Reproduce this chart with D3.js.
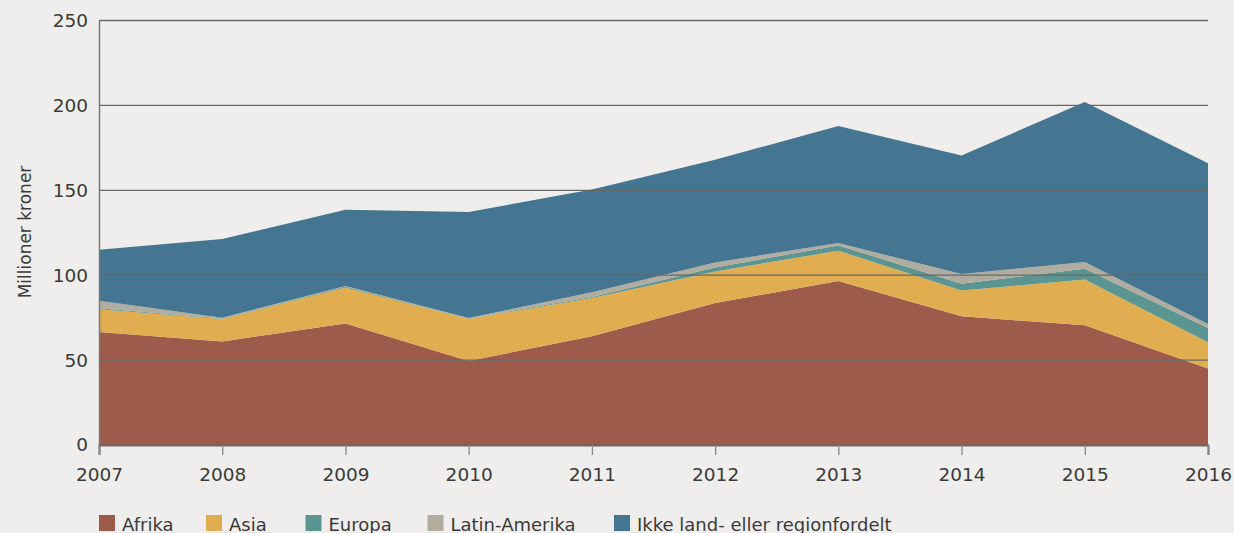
<!DOCTYPE html>
<html>
<head>
<meta charset="utf-8">
<script src="https://cdn.jsdelivr.net/npm/d3@7"></script>
<style>
body { margin:0; background:#efeeec; }
text { font-family:"DejaVu Sans", sans-serif; fill:#3a3a3a; }
</style>
</head>
<body>
<div id="chart"></div>
<script>
// data (millioner kroner)
var years = [2007, 2008, 2009, 2010, 2011, 2012, 2013, 2014, 2015, 2016];
var afrika = [66.5, 61, 71.6, 49.5, 64, 83.6, 96.6, 75.8, 70.5, 45];
var asia = [13.5, 13.2, 21.2, 24.8, 22.6, 18.6, 17.8, 15.2, 26.9, 15.5];
var europa = [0.5, 0.3, 0.5, 0.2, 0.6, 2.4, 3.1, 4, 6.4, 8.4];
var latin = [4.5, 0.5, 0.3, 0.3, 2.7, 2.9, 1.4, 5.7, 4, 2.4];
var ikke = [30, 46.3, 44.9, 62.4, 60.6, 60.5, 69, 69.8, 94.2, 94.7];
var yTicks = [0, 50, 100, 150, 200, 250];

var names = ["Afrika", "Asia", "Europa", "Latin-Amerika", "Ikke land- eller regionfordelt"];
var colors = ["#9c5b4b", "#e0ae50", "#5a9591", "#b0aca0", "#447591"];
var series = [afrika, asia, europa, latin, ikke];

var width = 1234, height = 533;
var margin = {top: 20.5, right: 26, bottom: 88, left: 99};
var w = width - margin.left - margin.right;
var h = height - margin.top - margin.bottom;

var svg = d3.select("#chart").append("svg")
  .attr("width", width)
  .attr("height", height);

var g = svg.append("g")
  .attr("transform", "translate(" + margin.left + "," + margin.top + ")");

var x = d3.scaleLinear().domain([2007, 2016]).range([0, w]);
var y = d3.scaleLinear().domain([0, 250]).range([h, 0]);

// table for stack
var rows = years.map(function(yr, i) {
  var r = {year: yr};
  names.forEach(function(n, k) { r[n] = series[k][i]; });
  return r;
});

var stack = d3.stack().keys(names);
var layers = stack(rows);

var area = d3.area()
  .x(function(d) { return x(d.data.year); })
  .y0(function(d) { return y(d[0]); })
  .y1(function(d) { return y(d[1]); });

g.selectAll("path.layer")
  .data(layers)
  .enter()
  .append("path")
  .attr("class", "layer")
  .attr("d", area)
  .attr("fill", function(d, i) { return colors[i]; });

// gridlines on top
g.selectAll("line.grid")
  .data(yTicks.slice(1))
  .enter()
  .append("line")
  .attr("class", "grid")
  .attr("x1", 0).attr("x2", w)
  .attr("y1", function(d) { return y(d); })
  .attr("y2", function(d) { return y(d); })
  .attr("stroke", "#686868")
  .attr("stroke-width", 1.3);

// y axis
var yAxis = g.append("g")
  .call(d3.axisLeft(y).tickValues(yTicks).tickSize(0).tickPadding(11));
yAxis.select(".domain").attr("stroke", "#7a7a7a").attr("stroke-width", 1.5);
yAxis.selectAll("text")
  .style("font-size", "18.5px")
  .style("font-family", "DejaVu Sans")
  .attr("fill", "#3a3a3a");

// x axis
var xAxis = g.append("g")
  .attr("transform", "translate(0," + h + ")")
  .call(d3.axisBottom(x).tickValues(years).tickFormat(d3.format("d")).tickSize(10).tickPadding(13));
xAxis.select(".domain").attr("stroke", "#666").attr("stroke-width", 2);
xAxis.selectAll(".tick line").attr("stroke", "#888").attr("stroke-width", 1.3);
xAxis.selectAll("text")
  .style("font-size", "18.5px")
  .style("font-family", "DejaVu Sans")
  .attr("fill", "#3a3a3a");

// y title
svg.append("text")
  .attr("transform", "translate(31,232) rotate(-90)")
  .attr("text-anchor", "middle")
  .style("font-size", "17px")
  .text("Millioner kroner");

// legend
var legendX = [0, 107, 206.5, 328.5, 515];
var legend = svg.append("g").attr("transform", "translate(99,515)");
names.forEach(function(n, i) {
  var item = legend.append("g").attr("transform", "translate(" + legendX[i] + ",0)");
  item.append("rect")
    .attr("width", 16).attr("height", 16)
    .attr("fill", colors[i]);
  item.append("text")
    .attr("x", 23).attr("y", 15.5)
    .style("font-size", "18px")
    .text(n);
});
</script>
</body>
</html>
